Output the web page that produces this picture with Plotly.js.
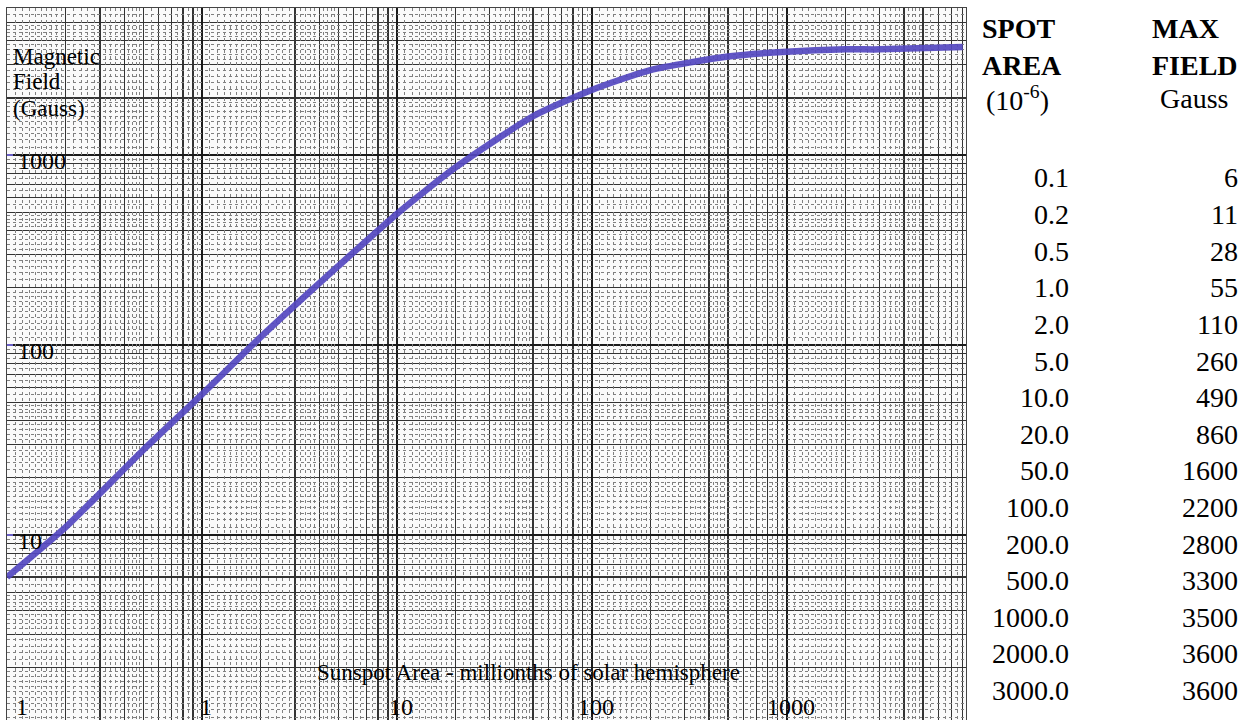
<!DOCTYPE html>
<html>
<head>
<meta charset="utf-8">
<script src="https://cdn.plot.ly/plotly-3.0.1.min.js"></script>
<style>
html,body{margin:0;padding:0;background:#fff;}
#chart{width:1256px;height:720px;}
</style>
</head>
<body>
<div id="chart"></div>
<script>
// ---------------- data ----------------
const AREA = [0.1, 0.2, 0.5, 1, 2, 5, 10, 20, 50, 100, 200, 500, 1000, 2000, 3000];
const AREA_LABELS = ["0.1","0.2","0.5","1.0","2.0","5.0","10.0","20.0","50.0","100.0","200.0","500.0","1000.0","2000.0","3000.0"];
const FIELD = [6, 11, 28, 55, 110, 260, 490, 860, 1600, 2200, 2800, 3300, 3500, 3600, 3600];
const FIELD_LABELS = ["6","11","28","55","110","260","490","860","1600","2200","2800","3300","3500","3600","3600"];
// the drawn curve continues to the right edge of the paper
const CURVE_END_AREA = 8000;
const CURVE_END_FIELD = 3700;

const X_TICK_VALS = [0.1, 1, 10, 100, 1000];
const X_TICK_TEXT = ["1", "1", "10", "100", "1000"];
const Y_TICK_VALS = [10, 100, 1000];
const Y_TICK_TEXT = ["10", "100", "1000"];

const Y_TITLE_LINES = ["Magnetic", "Field", "(Gauss)"];
const X_TITLE = "Sunspot Area - millionths of solar hemisphere";
const HEAD_LEFT = ["SPOT", "AREA", "(10<sup>-6</sup>)"];
const HEAD_RIGHT = ["MAX", "FIELD", "Gauss"];

// ---------------- layout helpers ----------------
const W = 1256, H = 720;
const M = {l: 7, r: 290, t: 8, b: 0};
const PW = W - M.l - M.r, PH = H - M.t - M.b;
const px2paperX = p => (p - M.l) / PW;
const px2paperY = p => (H - M.b - p) / PH;

// graph-paper grid positions
function decades(lo, hi) { const a = []; for (let e = lo; e <= hi; e++) a.push(Math.pow(10, e)); return a; }
function digits(lo, hi) { const a = []; for (let e = lo; e <= hi; e++) for (let d = 2; d <= 9; d++) a.push(d * Math.pow(10, e)); return a; }
function fine(lo, hi) {
  const a = [];
  for (let e = lo; e <= hi; e++) {
    const s = Math.pow(10, e);
    for (let v = 1.1; v < 1.999; v += 0.1) a.push(+(v * s).toPrecision(6));
    for (let v = 2.2; v < 4.999; v += 0.2) { if (Math.abs(v - Math.round(v)) > 0.01) a.push(+(v * s).toPrecision(6)); }
    for (let v = 5.5; v < 9.999; v += 1) a.push(+(v * s).toPrecision(6));
  }
  return a;
}

const SERIF = "Liberation Serif, Times New Roman, serif";
const XR = [-1, 3.92];
const YR = [0.026, 3.774];

const traces = [
  {
    type: "scatter", mode: "lines",
    x: AREA.concat([CURVE_END_AREA]),
    y: FIELD.concat([CURVE_END_FIELD]),
    xaxis: "x", yaxis: "y",
    line: {color: "rgba(84,72,192,0.92)", width: 6.5, shape: "spline", smoothing: 0.6},
    hoverinfo: "x+y", showlegend: false
  },
  {type: "scatter", mode: "markers", x: [], y: [], xaxis: "x2", yaxis: "y2", showlegend: false, hoverinfo: "skip"}
];

const annotations = [];
const LABEL_FONT = {family: SERIF, size: 24, color: "#000"};
// y labels inside plot
Y_TICK_VALS.forEach((v, i) => annotations.push({
  xref: "paper", x: 0, xanchor: "left", xshift: 9,
  yref: "y", y: Math.log10(v), yanchor: "middle", yshift: -6,
  text: Y_TICK_TEXT[i], showarrow: false, font: LABEL_FONT
}));
// x labels inside plot
X_TICK_VALS.forEach((v, i) => annotations.push({
  xref: "x", x: Math.log10(v), xanchor: i === 0 ? "left" : "center", xshift: i === 0 ? 8 : 4,
  yref: "paper", y: 0, yanchor: "bottom", borderpad: 0, yshift: -1,
  text: X_TICK_TEXT[i], showarrow: false, font: LABEL_FONT
}));
// axis titles
[56, 82, 108].forEach((py, i) => annotations.push({
  xref: "paper", x: px2paperX(11), xanchor: "left",
  yref: "paper", y: px2paperY(py), yanchor: "middle",
  text: Y_TITLE_LINES[i], showarrow: false,
  font: {family: SERIF, size: 23, color: "#000"}
}));
annotations.push({
  xref: "paper", x: px2paperX(528), xanchor: "center",
  yref: "paper", y: px2paperY(672), yanchor: "middle",
  text: X_TITLE, showarrow: false,
  font: {family: SERIF, size: 23, color: "#000"}
});
// table header
const HEAD_FONT = {family: SERIF, size: 28, color: "#000"};
[29, 65, 98].forEach((py, i) => {
  annotations.push({
    xref: "paper", x: px2paperX(i === 2 ? 984 : 980), xanchor: "left",
    yref: "paper", y: px2paperY(py), yanchor: "middle",
    text: i < 2 ? "<b>" + HEAD_LEFT[i] + "</b>" : HEAD_LEFT[i], showarrow: false,
    font: HEAD_FONT
  });
  annotations.push({
    xref: "paper", x: px2paperX(i === 2 ? 1158 : 1150), xanchor: "left",
    yref: "paper", y: px2paperY(py), yanchor: "middle",
    text: i < 2 ? "<b>" + HEAD_RIGHT[i] + "</b>" : HEAD_RIGHT[i], showarrow: false,
    font: HEAD_FONT
  });
});
// table rows
const ROW_FONT = {family: SERIF, size: 28, color: "#000"};
AREA_LABELS.forEach((t, i) => {
  const py = 178 + i * 36.6;
  annotations.push({
    xref: "paper", x: px2paperX(1071), xanchor: "right",
    yref: "paper", y: px2paperY(py), yanchor: "middle",
    text: t, showarrow: false, font: ROW_FONT
  });
  annotations.push({
    xref: "paper", x: px2paperX(1240), xanchor: "right",
    yref: "paper", y: px2paperY(py), yanchor: "middle",
    text: FIELD_LABELS[i], showarrow: false, font: ROW_FONT
  });
});

const baseAxis = {type: "log", showticklabels: false, zeroline: false, fixedrange: true};

const layout = {
  width: W, height: H,
  margin: M,
  paper_bgcolor: "#fff", plot_bgcolor: "#fafafa",
  showlegend: false,
  xaxis: Object.assign({}, baseAxis, {
    range: XR, anchor: "y",
    tickmode: "array", tickvals: decades(-1, 4), ticks: "",
    showgrid: true, gridcolor: "#1a1a1a", gridwidth: 2,
    minor: {tickmode: "array", tickvals: digits(-1, 3), showgrid: true, gridcolor: "#333", gridwidth: 1.3, ticks: ""},
    showline: true, linecolor: "#444", linewidth: 1, mirror: true
  }),
  yaxis: Object.assign({}, baseAxis, {
    range: YR, anchor: "x",
    tickmode: "array", tickvals: Y_TICK_VALS.concat([1]), ticks: "inside", ticklen: 6, tickwidth: 2, tickcolor: "#6a5fc8",
    showgrid: true, gridcolor: "#1a1a1a", gridwidth: 2,
    minor: {tickmode: "array", tickvals: digits(0, 3), showgrid: true, gridcolor: "#333", gridwidth: 1.3, ticks: ""},
    showline: true, linecolor: "#444", linewidth: 1, mirror: true
  }),
  xaxis2: Object.assign({}, baseAxis, {
    range: XR, overlaying: "x", anchor: "y2",
    tickmode: "array", tickvals: fine(-1, 3), ticks: "",
    showgrid: true, gridcolor: "#808080", gridwidth: 1, griddash: "dot", showline: false
  }),
  yaxis2: Object.assign({}, baseAxis, {
    range: YR, overlaying: "y", anchor: "x2",
    tickmode: "array", tickvals: fine(0, 3), ticks: "",
    showgrid: true, gridcolor: "#808080", gridwidth: 1, griddash: "dot", showline: false
  }),
  annotations: annotations
};

Plotly.newPlot("chart", traces, layout, {displayModeBar: false, staticPlot: true});
</script>
</body>
</html>
